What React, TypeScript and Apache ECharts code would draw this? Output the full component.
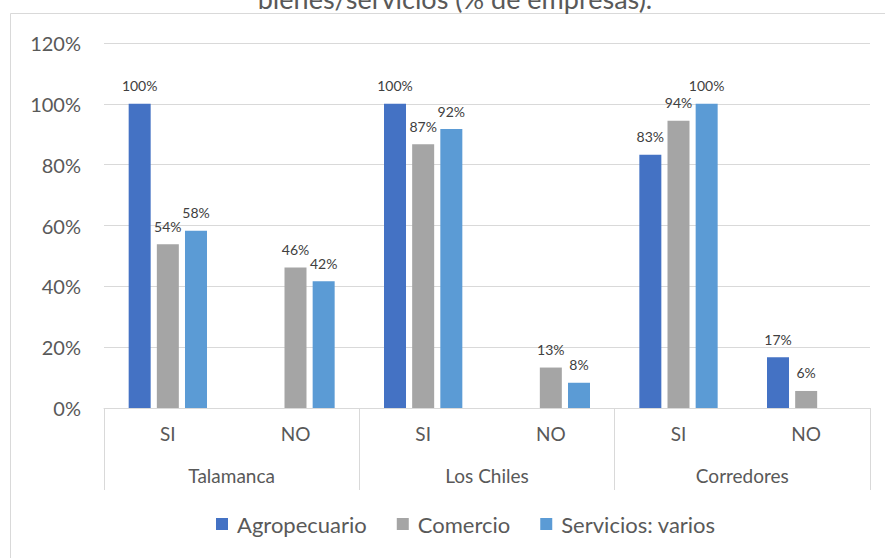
import React, { useEffect, useRef } from "react";
import * as echarts from "echarts";

const subCategories = ["SI", "NO", "SI", "NO", "SI", "NO"];
const groups = ["Talamanca", "Los Chiles", "Corredores"];
const seriesNames = ["Agropecuario", "Comercio", "Servicios: varios"];
const agropecuario = [100, null, 100, null, 83.3, 16.7];
const comercio = [53.8, 46.2, 86.7, 13.3, 94.4, 5.6];
const servicios = [58.3, 41.7, 91.7, 8.3, 100, null];
const yTicks = { min: 0, max: 120, interval: 20 };
const titleText = "bienes/servicios (% de empresas).";

const colors = ["#4472C4", "#A5A5A5", "#5B9BD5"];
const FONT = "Lato";

export default function App() {
  const ref = useRef<HTMLDivElement>(null);
  useEffect(() => {
    if (!ref.current) return;
    const chart = echarts.init(ref.current, null, { renderer: "svg" });
    const label = {
      show: true,
      position: "top",
      distance: 11,
      fontSize: 14,
      fontFamily: FONT,
      color: "#404040",
      formatter: (p: any) => (p.value == null ? "" : Math.round(p.value) + "%"),
    };
    const values = [agropecuario, comercio, servicios];
    chart.setOption({
      animation: false,
      color: colors,
      textStyle: { fontFamily: FONT },
      grid: { left: 104, right: 15, top: 43, bottom: 150, containLabel: false },
      graphic: [
        {
          type: "rect",
          shape: { x: 10.5, y: 13.5, width: 900, height: 600 },
          style: { fill: "none", stroke: "#D9D9D9", lineWidth: 1 },
          silent: true,
        },
        {
          type: "text",
          x: 455,
          y: -2,
          style: {
            text: titleText,
            fontSize: 27,
            fontFamily: FONT,
            fill: "#595959",
            textAlign: "center",
            textVerticalAlign: "middle",
          },
        },
      ],
      legend: {
        bottom: 18,
        left: 211,
        icon: "rect",
        itemWidth: 12,
        itemHeight: 12,
        itemGap: 30,
        textStyle: { fontSize: 22, fontFamily: FONT, color: "#595959", padding: [0, 0, 0, 4] },
        data: seriesNames,
      },
      xAxis: [
        {
          type: "category",
          data: subCategories,
          axisLine: { show: true, lineStyle: { color: "#D9D9D9", width: 1 } },
          axisTick: { show: false },
          axisLabel: { margin: 16, fontSize: 19, fontFamily: FONT, color: "#595959" },
        },
        {
          type: "category",
          data: groups,
          position: "bottom",
          axisLine: { show: false },
          axisTick: { show: true, length: 82, lineStyle: { color: "#D9D9D9", width: 1 } },
          axisLabel: { margin: 58, fontSize: 19, fontFamily: FONT, color: "#595959" },
        },
      ],
      yAxis: {
        type: "value",
        min: yTicks.min,
        max: yTicks.max,
        interval: yTicks.interval,
        axisLine: { show: false },
        axisTick: { show: false },
        splitLine: { lineStyle: { color: "#D9D9D9", width: 1 } },
        axisLabel: {
          formatter: "{value}%",
          fontSize: 20,
          fontFamily: FONT,
          color: "#595959",
          margin: 23,
        },
      },
      series: seriesNames.map((name, i) => ({
        name,
        type: "bar",
        xAxisIndex: 0,
        data: values[i],
        barWidth: 22,
        barGap: "28%",
        label,
      })),
    });
    return () => chart.dispose();
  }, []);
  return (
    <div
      ref={ref}
      style={{ position: "fixed", left: 0, top: 0, width: 885, height: 558, background: "#fff" }}
    />
  );
}
